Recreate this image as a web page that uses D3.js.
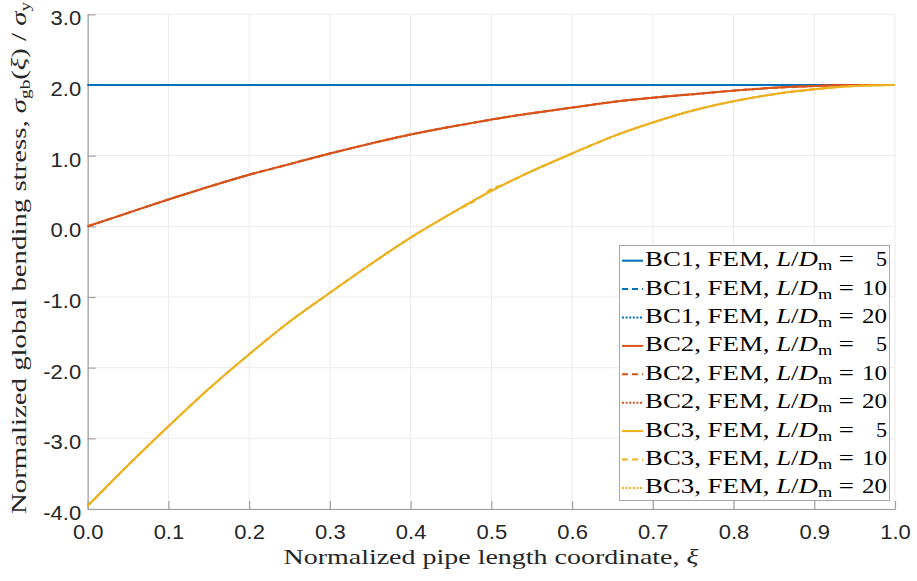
<!DOCTYPE html>
<html><head><meta charset="utf-8">
<script src="https://cdn.jsdelivr.net/npm/d3@7/dist/d3.min.js"></script>
<style>body{margin:0;background:#fff}</style></head>
<body>
<svg id="c" width="917" height="581"></svg>
<script>
// ---- data ----
const xi = [0,0.05,0.1,0.15,0.2,0.25,0.3,0.35,0.4,0.45,0.49,0.5,0.51,0.55,0.6,0.65,0.7,0.75,0.8,0.85,0.9,0.95,1.0];
const bc1_L5  = [2,2,2,2,2,2,2,2,2,2,2,2,2,2,2,2,2,2,2,2,2,2,2];
const bc1_L10 = [2,2,2,2,2,2,2,2,2,2,2,2,2,2,2,2,2,2,2,2,2,2,2];
const bc1_L20 = [2,2,2,2,2,2,2,2,2,2,2,2,2,2,2,2,2,2,2,2,2,2,2];
const bc2_L5  = [0,0.19,0.38,0.56,0.73,0.88,1.03,1.17,1.30,1.41,1.49,1.51,1.53,1.60,1.68,1.76,1.82,1.87,1.92,1.96,1.985,2.0,2.0];
const bc2_L10 = [0,0.19,0.38,0.56,0.73,0.88,1.03,1.17,1.30,1.41,1.49,1.51,1.53,1.60,1.68,1.76,1.82,1.87,1.92,1.96,1.985,2.0,2.0];
const bc2_L20 = [0,0.19,0.38,0.56,0.73,0.88,1.03,1.17,1.30,1.41,1.49,1.51,1.53,1.60,1.68,1.76,1.82,1.87,1.92,1.96,1.985,2.0,2.0];
const bc3_L5  = [-3.95,-3.38,-2.83,-2.30,-1.81,-1.35,-0.94,-0.54,-0.16,0.18,0.44,0.50,0.56,0.78,1.03,1.27,1.47,1.64,1.77,1.87,1.94,1.985,2.0];
const bc3_L10 = [-3.96,-3.38,-2.83,-2.30,-1.81,-1.35,-0.94,-0.54,-0.16,0.18,0.44,0.53,0.57,0.78,1.03,1.27,1.47,1.64,1.77,1.87,1.94,1.985,2.0];
const bc3_L20 = [-3.96,-3.38,-2.83,-2.30,-1.81,-1.35,-0.94,-0.54,-0.16,0.18,0.44,0.50,0.56,0.78,1.03,1.27,1.47,1.64,1.77,1.87,1.94,1.985,2.0];

const bcNames   = ["BC1","BC2","BC3"];
const ldValues  = ["5","10","20"];
const xTicks = [0,0.1,0.2,0.3,0.4,0.5,0.6,0.7,0.8,0.9,1.0];
const yTicks = [-4,-3,-2,-1,0,1,2,3];
const xLabel = "Normalized pipe length coordinate, ";

const colors = ["#0072BD","#D95319","#EDB120"];
const dashes = [null,"6,4","2,1.6"];

const seriesData = [
  [bc1_L5,bc1_L10,bc1_L20],
  [bc2_L5,bc2_L10,bc2_L20],
  [bc3_L5,bc3_L10,bc3_L20]
];

// ---- layout ----
const svg = d3.select("#c");
const L = 87.7, R = 895, T = 14.3, B = 509;
const x = d3.scaleLinear().domain([0,1]).range([L,R]);
const y = d3.scaleLinear().domain([-4,3]).range([B,T]);
const fmt = d => d3.format(".1f")(d).replace("−","-");

// grid
const grid = svg.append("g");
grid.selectAll("line.gx").data(xTicks).join("line")
  .attr("x1",d=>x(d)).attr("x2",d=>x(d)).attr("y1",T).attr("y2",B)
  .attr("stroke","#ebebeb").attr("stroke-width",1);
grid.selectAll("line.gy").data(yTicks).join("line")
  .attr("y1",d=>y(d)).attr("y2",d=>y(d)).attr("x1",L).attr("x2",R)
  .attr("stroke","#ebebeb").attr("stroke-width",1);

// axes
const axColor = "#a0a0a0";
const xAxis = svg.append("g").attr("transform",`translate(0,${B})`)
  .call(d3.axisBottom(x).tickValues(xTicks).tickSizeInner(-8).tickSizeOuter(0).tickFormat(fmt));
const yAxis = svg.append("g").attr("transform",`translate(${L},0)`)
  .call(d3.axisLeft(y).tickValues(yTicks).tickSizeInner(-8).tickSizeOuter(0).tickFormat(fmt));
[xAxis,yAxis].forEach(a=>{
  a.select(".domain").attr("stroke",axColor).attr("stroke-width",1.2);
  a.selectAll(".tick line").attr("stroke",axColor).attr("stroke-width",1.2);
  a.selectAll(".tick text").attr("fill","#262626")
    .style("font-family","'Liberation Sans', Arial, sans-serif").style("font-size","20px");
});
xAxis.selectAll(".tick text").attr("y",30).attr("dy",0).attr("text-anchor","middle");
yAxis.selectAll(".tick text").attr("x",-6.5).attr("dy",0).attr("y",10.5).attr("text-anchor","end");
svg.selectAll(".tick text").each(function(){
  const w = this.getComputedTextLength();
  d3.select(this).attr("textLength",w*1.1).attr("lengthAdjust","spacingAndGlyphs");
});

// lines
const line = d3.line().curve(d3.curveMonotoneX).x((d,i)=>x(xi[i])).y(d=>y(d));
const plot = svg.append("g");
seriesData.forEach((grp,bi)=>{
  grp.forEach((vals,li)=>{
    plot.append("path").datum(vals).attr("d",line)
      .attr("fill","none").attr("stroke",colors[bi]).attr("stroke-width",2)
      .attr("stroke-dasharray",dashes[li]).attr("stroke-linejoin","round");
  });
});

// legend
const lg = svg.append("g");
lg.append("rect").attr("x",619.5).attr("y",245.5).attr("width",270).attr("height",255)
  .attr("fill","#fff").attr("stroke","#a8a8a8").attr("stroke-width",1);
const serif = "'Liberation Serif','Times New Roman',serif";
let row = 0;
bcNames.forEach((bc,bi)=>{
  ldValues.forEach((ld,li)=>{
    const cy = 260.7 + row*28.4;
    lg.append("line").attr("x1",622).attr("x2",643).attr("y1",cy).attr("y2",cy)
      .attr("stroke",colors[bi]).attr("stroke-width",2).attr("stroke-dasharray",dashes[li]);
    const t = lg.append("text").attr("x",645).attr("y",cy+5.5)
      .style("font-family",serif).style("font-size","22px").attr("fill","#000");
    t.append("tspan").text(bc+", FEM, ");
    t.append("tspan").style("font-style","italic").text("L");
    t.append("tspan").text("/");
    t.append("tspan").style("font-style","italic").text("D");
    t.append("tspan").attr("dy",4).style("font-size","15px").text("m");
    t.append("tspan").attr("dy",-4).text(" =");
    t.attr("textLength",209).attr("lengthAdjust","spacingAndGlyphs");
    lg.append("text").attr("x",887).attr("y",cy+5.5).attr("text-anchor","end")
      .style("font-family",serif).style("font-size","22px").attr("fill","#000")
      .attr("textLength",ld.length===1?11:25).attr("lengthAdjust","spacingAndGlyphs").text(ld);
    row++;
  });
});

// x label
const xl = svg.append("text").attr("x",491).attr("y",564).attr("text-anchor","middle")
  .style("font-family",serif).style("font-size","22px").attr("fill","#262626");
xl.append("tspan").text(xLabel);
xl.append("tspan").style("font-style","italic").text("ξ");
xl.attr("textLength",415).attr("lengthAdjust","spacingAndGlyphs");

// y label
const yl = svg.append("text").attr("transform","translate(26,258) rotate(-90)").attr("text-anchor","middle")
  .style("font-family",serif).style("font-size","21px").attr("fill","#262626");
yl.append("tspan").text("Normalized global bending stress, ");
yl.append("tspan").style("font-style","italic").text("σ");
yl.append("tspan").attr("dy",4).style("font-size","14px").text("gb");
yl.append("tspan").attr("dy",-4).text("(");
yl.append("tspan").style("font-style","italic").text("ξ");
yl.append("tspan").text(") / ");
yl.append("tspan").style("font-style","italic").text("σ");
yl.append("tspan").attr("dy",4).style("font-size","14px").text("y");
yl.attr("textLength",512).attr("lengthAdjust","spacingAndGlyphs");
</script>
</body></html>
